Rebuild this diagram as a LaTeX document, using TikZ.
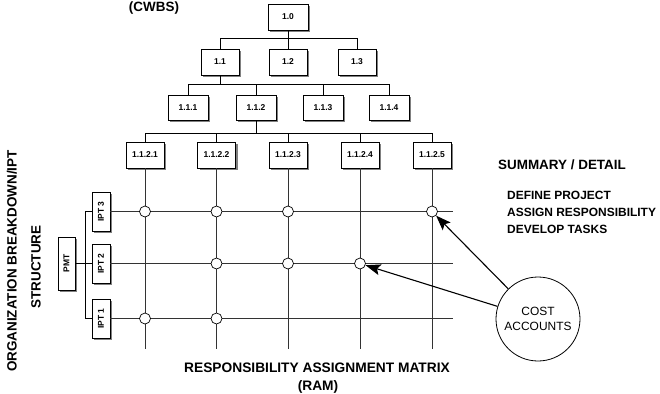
\documentclass[tikz,border=0pt]{standalone}
\usepackage{fontspec}
\setmainfont{Liberation Sans}
\usetikzlibrary{shadows,arrows.meta}
\begin{document}
\begin{tikzpicture}[x=1bp,y=-1bp,
  every node/.style={inner sep=0pt},
  shad/.style={drop shadow={shadow xshift=2.2bp, shadow yshift=-2.2bp, fill=black!50, opacity=1}},
  wbs/.style={draw, line width=0.8bp, fill=white, minimum width=38bp, minimum height=26bp,
    font=\fontsize{8.5}{9}\selectfont\bfseries, shad},
  ipt/.style={draw, line width=0.8bp, fill=white, minimum width=18bp, minimum height=39bp,
    font=\fontsize{8.5}{9}\selectfont\bfseries, shad},
  link/.style={line width=0.8bp, black},
  grid/.style={line width=0.9bp, black!80},
  ca/.style={draw, circle, fill=white, line width=0.7bp, minimum size=11bp},
  head/.style={font=\fontsize{13.5}{15}\selectfont\bfseries},
  item/.style={font=\fontsize{12}{14}\selectfont\bfseries, anchor=west},
  arr/.style={line width=1.1bp, -{Stealth[length=15bp,width=11bp,inset=3bp]}}
]
\useasboundingbox (0,0) rectangle (660,393);

% CWBS tree
\node[wbs, minimum width=40bp] (n10) at (288,17) {1.0};
\node[wbs] (n11) at (220,62) {1.1};
\node[wbs] (n12) at (288,62) {1.2};
\node[wbs] (n13) at (357,62) {1.3};
\node[wbs, minimum width=40bp, minimum height=25bp] (n111) at (188,107.5) {1.1.1};
\node[wbs, minimum width=40bp, minimum height=25bp] (n112) at (256,107.5) {1.1.2};
\node[wbs, minimum width=40bp, minimum height=25bp] (n113) at (323,107.5) {1.1.3};
\node[wbs, minimum width=40bp, minimum height=25bp] (n114) at (389,107.5) {1.1.4};
\node[wbs] (c1) at (145,155) {1.1.2.1};
\node[wbs] (c2) at (216.5,155) {1.1.2.2};
\node[wbs] (c3) at (288,155) {1.1.2.3};
\node[wbs] (c4) at (360,155) {1.1.2.4};
\node[wbs] (c5) at (432,155) {1.1.2.5};

\coordinate (b1) at (0,38);
\coordinate (b2) at (0,84);
\coordinate (b3) at (0,133);
\draw[link] (n10.south) -- (n10.south|-b1);
\draw[link] (n11.north) -- (n11.north|-b1) -- (n13.north|-b1) -- (n13.north);
\draw[link] (n12.north) -- (n12.north|-b1);
\draw[link] (n11.south) -- (n11.south|-b2);
\draw[link] (n111.north) -- (n111.north|-b2) -- (n114.north|-b2) -- (n114.north);
\draw[link] (n112.north) -- (n112.north|-b2);
\draw[link] (n113.north) -- (n113.north|-b2);
\draw[link] (n112.south) -- (n112.south|-b3);
\draw[link] (c1.north) -- (c1.north|-b3) -- (c5.north|-b3) -- (c5.north);
\draw[link] (c2.north) -- (c2.north|-b3);
\draw[link] (c3.north) -- (c3.north|-b3);
\draw[link] (c4.north) -- (c4.north|-b3);

% organization
\node[ipt] (i3) at (101,211.5) {\rotatebox{90}{IPT 3}};
\node[ipt] (i2) at (101,263.5) {\rotatebox{90}{IPT 2}};
\node[ipt] (i1) at (101,318.5) {\rotatebox{90}{IPT 1}};
\node[ipt, minimum width=17bp, minimum height=53bp] (pmt) at (66.5,263.5) {\rotatebox{90}{PMT}};
\coordinate (brk) at (85,0);
\draw[link] (i3.west) -- (i3.west-|brk) -- (i1.west-|brk) -- (i1.west);
\draw[link] (pmt.east) -- (i2.west);

% matrix
\coordinate (rowend) at (453,0);
\coordinate (colend) at (0,349);
\foreach \r in {i1,i2,i3} \draw[grid] (\r.east) -- (\r.east-|rowend);
\foreach \c in {c1,c2,c3,c4,c5} \draw[grid] (\c.south) -- (\c.south|-colend);

\node[ca] (k13) at (c1|-i3) {};
\node[ca] (k23) at (c2|-i3) {};
\node[ca] (k33) at (c3|-i3) {};
\node[ca] (k53) at (c5|-i3) {};
\node[ca] (k22) at (c2|-i2) {};
\node[ca] (k32) at (c3|-i2) {};
\node[ca] (k42) at (c4|-i2) {};
\node[ca] (k11) at (c1|-i1) {};
\node[ca] (k21) at (c2|-i1) {};

% cost accounts
\node[draw, circle, line width=0.8bp, minimum size=84bp, align=center,
  font=\fontsize{12}{15}\selectfont] (cost) at (538,319) {COST\\ACCOUNTS};
\draw[arr] (cost) -- (k53);
\draw[arr] (cost) -- (k42);

% texts
\node[head] (cwbs) at (154,8) {(CWBS)};
\node[head] (sd) at (562,165) {SUMMARY / DETAIL};
\node[item] (t1) at (507,195) {DEFINE PROJECT};
\node[item] (t2) at (507,212) {ASSIGN RESPONSIBILITY};
\node[item] (t3) at (507,229) {DEVELOP TASKS};
\node[head, rotate=90] (obs1) at (12,261) {ORGANIZATION BREAKDOWN/IPT};
\node[head, rotate=90] (obs2) at (36,267) {STRUCTURE};
\node[head, font=\fontsize{13.8}{15}\selectfont\bfseries] (ram1) at (317,368) {RESPONSIBILITY ASSIGNMENT MATRIX};
\node[head, font=\fontsize{13.8}{15}\selectfont\bfseries] (ram2) at (318,387) {(RAM)};
\end{tikzpicture}
\end{document}
